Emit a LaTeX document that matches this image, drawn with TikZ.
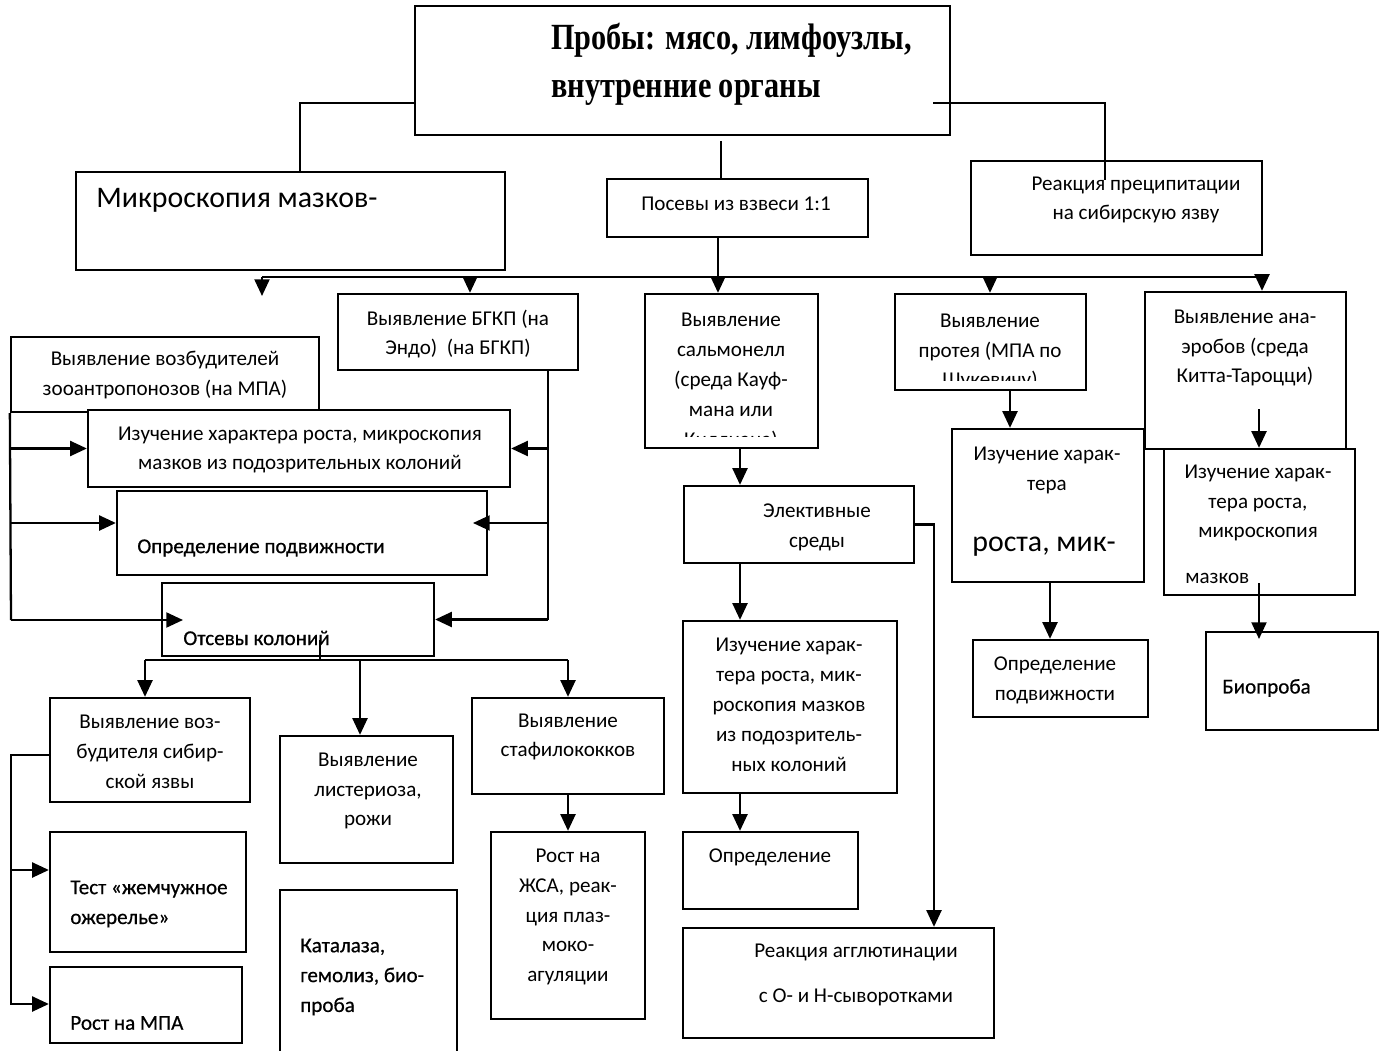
\documentclass[tikz,border=0pt]{standalone}
\usepackage{fontspec}
\setmainfont{Carlito}
\newfontfamily\titlefont[FakeStretch=0.82]{Liberation Serif}
\newfontfamily\darkfont[FakeBold=0.6]{Carlito}
\usetikzlibrary{arrows.meta,fit,calc}

\begin{document}
\begin{tikzpicture}[x=0.02cm,y=-0.02cm,
    box/.style={draw,line width=1.3pt,fill=white,inner sep=0pt},
    txt/.style={font=\fontsize{12}{17}\selectfont,align=center,inner sep=0pt},
    dark/.style={txt,font=\darkfont\fontsize{12}{17}\selectfont,align=left,anchor=west},
    big/.style={txt,font=\fontsize{17}{20}\selectfont,anchor=west},
    link/.style={line width=1.3pt},
    arr/.style={link,-{Triangle[length=9.5pt,width=8.5pt]}}]
    \path[use as bounding box] (0,0) rectangle (1387,1051);

    % boxes
    \node[box,fit={(415,6) (950,135)}] (probe) {};
    \node[box,fit={(76,172) (505,270)}] (micro) {};
    \node[box,fit={(607,179) (868,237)}] (posev) {};
    \node[box,fit={(971,161) (1262,255)}] (precip) {};
    \node[box,fit={(338,294) (578,370)}] (bgkp) {};
    \node[box,fit={(11,337) (319,412)}] (zoo) {};
    \node[box,fit={(88,410) (510,487)}] (izuch1) {};
    \node[box,fit={(117,491) (487,575)}] (podv1) {};
    \node[box,fit={(162,583) (434,656)}] (otsev) {};
    \node[box,fit={(50,698) (250,802)}] (sib) {};
    \node[box,fit={(50,832) (246,952)}] (test) {};
    \node[box,fit={(50,967) (242,1043)}] (mpa) {};
    \node[box,fit={(280,736) (453,863)}] (list) {};
    \node[box,fit={(280,890) (457,1060)}] (katal) {};
    \node[box,fit={(472,698) (664,794)}] (staf) {};
    \node[box,fit={(491,832) (645,1019)}] (zhsa) {};
    \node[box,fit={(645,294) (818,448)}] (salm) {};
    \node[box,fit={(684,486) (914,563)}] (elekt) {};
    \node[box,fit={(683,621) (897,793)}] (izuch2) {};
    \node[box,fit={(683,832) (858,909)}] (opr2) {};
    \node[box,fit={(683,928) (994,1038)}] (aggl) {};
    \node[box,fit={(895,294) (1086,390)}] (prot) {};
    \node[box,fit={(952,429) (1144,582)}] (izuch3) {};
    \node[box,fit={(973,640) (1148,717)}] (podv3) {};
    \node[box,fit={(1145,292) (1346,449)}] (anaer) {};
    \node[box,fit={(1164,449) (1355,595)}] (izuch4) {};
    \node[box,fit={(1206,632) (1378,730)}] (bio) {};

    % texts
    \node[anchor=west,align=left,inner sep=0pt,font=\titlefont\bfseries\fontsize{21}{27.5}\selectfont]
        (probe-t) at (551,64) {Пробы: мясо, лимфоузлы,\\внутренние органы};
    \node[big] (micro-t) at (96,200) {Микроскопия мазков-};
    \node[txt] (posev-t) at (736,204) {Посевы из взвеси 1:1};
    \node[txt] (precip-t) at (1136,200) {Реакция преципитации\\на сибирскую язву};
    \node[txt] (bgkp-t) at (458,334) {Выявление БГКП (на\\Эндо)\ \ (на БГКП)};
    \node[txt] (zoo-t) at (165,375) {Выявление возбудителей\\зооантропонозов (на МПА)};
    \node[txt] (izuch1-t) at (300,450) {Изучение характера роста, микроскопия\\мазков из подозрительных колоний};
    \node[dark] (podv1-t) at (137,548) {Определение подвижности};
    \node[dark] (otsev-t) at (183,638) {Отсевы колоний};
    \node[txt] (sib-t) at (150,752) {Выявление воз-\\будителя сибир-\\ской язвы};
    \node[dark] (test-t) at (70,904) {Тест «жемчужное\\ожерелье»};
    \node[dark] (mpa-t) at (70,1023) {Рост на МПА};
    \node[txt] (list-t) at (368,791) {Выявление\\листериоза,\\рожи};
    \node[dark] (katal-t) at (300,977) {Каталаза,\\гемолиз, био-\\проба};
    \node[txt] (staf-t) at (568,737) {Выявление\\стафилококков};
    \node[txt] (zhsa-t) at (568,917) {Рост на\\ЖСА, реак-\\ция плаз-\\моко-\\агуляции};
    \begin{scope}
        \clip (salm.north west) rectangle (salm.east |- 0,436);
        \node[txt] (salm-t) at (731,381) {Выявление\\сальмонелл\\(среда Кауф-\\мана или\\Киллиана)};
    \end{scope}
    \node[txt] (elekt-t) at (817,527) {Элективные\\среды};
    \node[txt] (izuch2-t) at (789,705) {Изучение харак-\\тера роста, мик-\\роскопия мазков\\из подозритель-\\ных колоний};
    \node[txt] (opr2-t) at (770,857) {Определение};
    \node[txt] (aggl-t) at (856,975) {Реакция агглютинации\\[9pt]с О- и Н-сыворотками};
    \begin{scope}
        \clip (prot.north west) rectangle (prot.east |- 0,380);
        \node[txt] (prot-t) at (990,352) {Выявление\\протея (МПА по\\Шукевичу)};
    \end{scope}
    \node[txt] (izuch3-t) at (1047,470) {Изучение харак-\\тера};
    \node[big] (izuch3-b) at (972,547) {роста, мик-};
    \node[txt] (podv3-t) at (1055,680) {Определение\\подвижности};
    \node[txt] (anaer-t) at (1245,348) {Выявление ана-\\эробов (среда\\Китта-Тароцци)};
    \node[txt] (izuch4-t) at (1258,503) {Изучение харак-\\тера роста,\\микроскопия};
    \node[txt,anchor=west] (izuch4-b) at (1185,578) {мазков};
    \node[dark] (bio-t) at (1222,688) {Биопроба};

    % connectors from the samples
    \draw[line width=0.9pt] (probe.west |- 0,103) -| (micro.north -| 300,0);
    \draw[line width=0.9pt] (933,103) -| (1105,180);
    \draw[line width=0.9pt] (721,141) -- (posev.north -| 721,0);
    \coordinate (bar) at (718,277);
    \draw[link] (posev.south -| bar) -- (bar);
    \draw[link] (262,277) -- (1262,277);
    \draw[arr] (262,277) -- (262,296);
    \draw[arr] (bar -| 470,0) -- (bgkp.north -| 470,0);
    \draw[arr] (bar) -- (salm.north -| bar);
    \draw[arr] (bar -| 990,0) -- (prot.north -| 990,0);
    \draw[arr] (bar -| 1262,0) -- (anaer.north -| 1262,0);

    % left group
    \draw[link] (bgkp.south -| 548,0) -- (548,620);
    \draw[arr] (izuch1.east -| 548,0) -- (izuch1.east);
    \draw[arr] (548,523) -- (473,523);
    \draw[arr] (otsev.east -| 548,0) -- (otsev.east);
    \draw[link] (zoo.south west) -- (11,620);
    \draw[arr] (izuch1.west -| 11,0) -- (izuch1.west);
    \draw[arr] (11,523) -- (podv1.west |- 0,523);
    \draw[arr] (11,620) -- (183,620);
    \draw[link] (320,640) -- (320,660);
    \draw[link] (145,660) -- (568,660);
    \draw[arr] (145,660) -- (sib.north -| 145,0);
    \draw[arr] (360,660) -- (list.north -| 360,0);
    \draw[arr] (568,660) -- (staf.north);
    \draw[link] (sib.west |- 0,755) -- (11,755) -- (11,870);
    \draw[arr] (11,870) -- (test.west |- 0,870);
    \draw[arr] (11,870) |- (mpa.west |- 0,1004);
    \draw[arr] (staf.south) -- (zhsa.north);

    % middle group
    \draw[arr] (salm.south -| 740,0) -- (elekt.north -| 740,0);
    \draw[arr] (elekt.south -| 740,0) -- (izuch2.north -| 740,0);
    \draw[arr] (izuch2.south -| 740,0) -- (opr2.north -| 740,0);
    \draw[arr] (elekt.east) -| (aggl.north -| 934,0);

    % right group
    \draw[arr] (prot.south -| 1010,0) -- (izuch3.north -| 1010,0);
    \draw[arr] (izuch3.south -| 1050,0) -- (podv3.north -| 1050,0);
    \draw[arr] (1259,409) -- (izuch4.north -| 1259,0);
    \draw[arr] (1259,583) -- (1259,639);
\end{tikzpicture}
\end{document}
